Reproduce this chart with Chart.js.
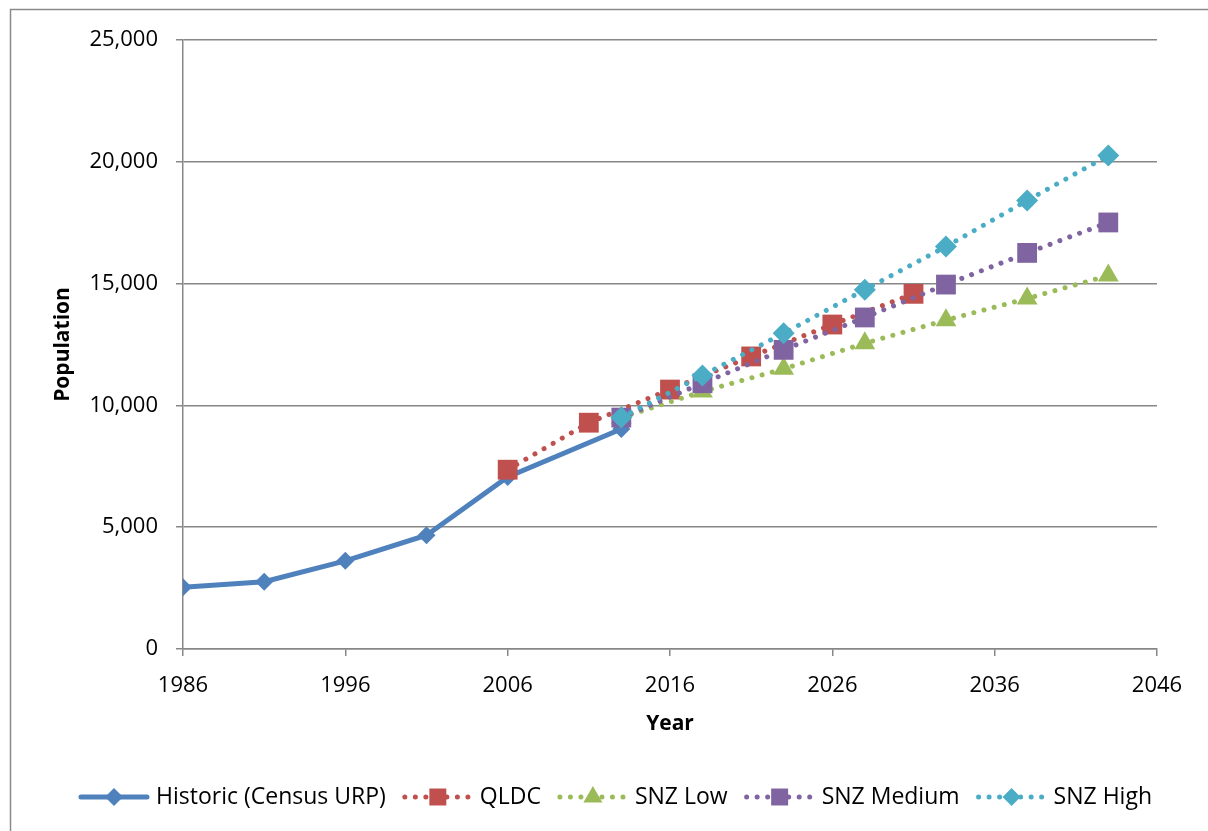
<!DOCTYPE html>
<html>
<head>
<meta charset="utf-8">
<script src="https://cdn.jsdelivr.net/npm/chart.js@4.4.1/dist/chart.umd.min.js"></script>
<style>
  html, body { margin: 0; padding: 0; background: #fff; }
  #wrap { width: 1208px; height: 831px; position: relative; }
</style>
</head>
<body>
<div id="wrap"><canvas id="c" width="1208" height="831"></canvas></div>
<script>
// Population series (census estimates and projections)
const historicYears = [1986, 1991, 1996, 2001, 2006, 2013];
const historicValues = [2530, 2760, 3620, 4670, 7060, 9030];
const qldcYears = [2006, 2011, 2016, 2021, 2026, 2031];
const qldcValues = [7360, 9290, 10650, 12010, 13320, 14580];
const snzYears = [2013, 2018, 2023, 2028, 2033, 2038, 2043];
const snzLowValues = [9500, 10570, 11500, 12550, 13500, 14390, 15330];
const snzMediumValues = [9500, 10910, 12280, 13610, 14960, 16260, 17510];
const snzHighValues = [9500, 11230, 12960, 14750, 16520, 18410, 20260];
const xTickValues = [1986, 1996, 2006, 2016, 2026, 2036, 2046];
const yTickValues = [0, 5000, 10000, 15000, 20000, 25000];
const seriesNames = ['Historic (Census URP)', 'QLDC', 'SNZ Low', 'SNZ Medium', 'SNZ High'];
const xTitle = 'Year';
const yTitle = 'Population';

const FONT = '"Open Sans", "Liberation Sans", sans-serif';
const GRID = '#878787';

function pts(xs, ys) { return xs.map((x, i) => ({ x: x, y: ys[i] })); }

const DOT = [0.01, 10.5];

const datasets = [
  { label: seriesNames[0], data: pts(historicYears, historicValues), borderColor: '#4F81BD', backgroundColor: '#4F81BD',
    borderWidth: 5, pointStyle: 'rectRot', pointRadius: 9, order: 5, dotted: false },
  { label: seriesNames[1], data: pts(qldcYears, qldcValues), borderColor: '#C0504D', backgroundColor: '#C0504D',
    borderWidth: 5, borderDash: DOT, pointStyle: 'rect', pointRadius: 14, order: 4, dotted: true },
  { label: seriesNames[2], data: pts(snzYears, snzLowValues), borderColor: '#9BBB59', backgroundColor: '#9BBB59',
    borderWidth: 5, borderDash: DOT, pointStyle: 'triangle', pointRadius: 12, order: 3, dotted: true },
  { label: seriesNames[3], data: pts(snzYears, snzMediumValues), borderColor: '#8064A2', backgroundColor: '#8064A2',
    borderWidth: 5, borderDash: DOT, pointStyle: 'rect', pointRadius: 14, order: 2, dotted: true },
  { label: seriesNames[4], data: pts(snzYears, snzHighValues), borderColor: '#4BACC6', backgroundColor: '#4BACC6',
    borderWidth: 5, borderDash: DOT, pointStyle: 'rectRot', pointRadius: 11, order: 1, dotted: true }
];
datasets.forEach(d => {
  d.borderCapStyle = 'round';
  d.pointBorderWidth = 0;
  d.pointHoverRadius = d.pointRadius;
  d.tension = 0;
  d.fill = false;
});

// white page with the outer frame
const framePlugin = {
  id: 'frame',
  beforeDraw(chart) {
    const ctx = chart.ctx;
    ctx.save();
    ctx.fillStyle = '#fff';
    ctx.fillRect(0, 0, chart.width, chart.height);
    ctx.strokeStyle = '#8a8a8a';
    ctx.lineWidth = 1.5;
    ctx.strokeRect(10.5, 9.5, 1400, 1000);
    ctx.restore();
  }
};

function marker(ctx, style, x, y, r) {
  ctx.beginPath();
  if (style === 'rect') {
    const s = r * Math.SQRT1_2;
    ctx.rect(x - s, y - s, 2 * s, 2 * s);
  } else if (style === 'rectRot') {
    ctx.moveTo(x, y - r); ctx.lineTo(x + r, y); ctx.lineTo(x, y + r); ctx.lineTo(x - r, y);
    ctx.closePath();
  } else if (style === 'triangle') {
    const h = r * Math.sqrt(3) / 2;
    ctx.moveTo(x, y - r); ctx.lineTo(x + h, y + r / 2); ctx.lineTo(x - h, y + r / 2);
    ctx.closePath();
  }
  ctx.fill();
}

// series key along the bottom
const keyPlugin = {
  id: 'seriesKey',
  afterDraw(chart) {
    const ctx = chart.ctx;
    ctx.save();
    ctx.font = '23px ' + FONT;
    const y = 797, lineLen = 72, gapText = 6, gapItem = 16;
    const ds = chart.data.datasets;
    const widths = ds.map(d => ctx.measureText(d.label).width);
    const total = widths.reduce((a, b) => a + b, 0) + ds.length * (lineLen + gapText) + (ds.length - 1) * gapItem;
    let x = 615 - total / 2;
    ds.forEach((d, i) => {
      ctx.strokeStyle = d.borderColor;
      ctx.lineWidth = d.borderWidth;
      ctx.lineCap = 'round';
      ctx.setLineDash(d.dotted ? DOT : []);
      ctx.beginPath();
      ctx.moveTo(x + 3, y);
      ctx.lineTo(x + lineLen - 3, y);
      ctx.stroke();
      ctx.setLineDash([]);
      ctx.fillStyle = d.backgroundColor;
      const r = d.pointStyle === 'rect' ? 12 : (d.pointStyle === 'triangle' ? 11 : 9);
      marker(ctx, d.pointStyle, x + lineLen / 2, y, r);
      ctx.fillStyle = '#000';
      ctx.textBaseline = 'middle';
      ctx.textAlign = 'left';
      ctx.fillText(d.label, x + lineLen + gapText, y);
      x += lineLen + gapText + widths[i] + gapItem;
    });
    ctx.restore();
  }
};

async function build() {
  try {
    await Promise.all([
      document.fonts.load('21px "Open Sans"'),
      document.fonts.load('bold 21px "Open Sans"')
    ]);
  } catch (e) {}

  new Chart(document.getElementById('c'), {
    type: 'line',
    data: { datasets: datasets },
    plugins: [framePlugin, keyPlugin],
    options: {
      responsive: false,
      animation: false,
      devicePixelRatio: 1,
      layout: { padding: { left: 0, top: 40, right: 51, bottom: 72 } },
      plugins: { legend: { display: false }, tooltip: { enabled: false } },
      events: [],
      scales: {
        x: {
          type: 'linear',
          min: 1986, max: 2046,
          afterBuildTicks: s => { s.ticks = xTickValues.map(v => ({ value: v })); },
          afterFit: s => { s.height = 110; },
          border: { display: true, color: GRID, width: 1.5 },
          grid: { drawOnChartArea: false, drawTicks: true, tickLength: 7, color: GRID, lineWidth: 1.5 },
          ticks: { font: { family: FONT, size: 22 }, color: '#000', padding: 17, maxRotation: 0,
                   callback: v => String(v) },
          title: { display: true, text: xTitle, color: '#000', font: { family: FONT, size: 21, weight: 'bold' },
                   padding: { top: 0, bottom: 22 } }
        },
        y: {
          type: 'linear',
          min: 0, max: 25000,
          afterBuildTicks: s => { s.ticks = yTickValues.map(v => ({ value: v })); },
          afterFit: s => { s.width = 183; },
          border: { display: true, color: GRID, width: 1.5 },
          grid: { drawOnChartArea: true, drawTicks: true, tickLength: 7, color: GRID, lineWidth: 1.5 },
          ticks: { font: { family: FONT, size: 22 }, color: '#000', padding: 18,
                   callback: v => v.toLocaleString('en-US') },
          title: { display: true, text: yTitle, color: '#000', font: { family: FONT, size: 21, weight: 'bold' },
                   padding: { top: 50, bottom: 0 } }
        }
      }
    }
  });
}
build();
</script>
</body>
</html>
